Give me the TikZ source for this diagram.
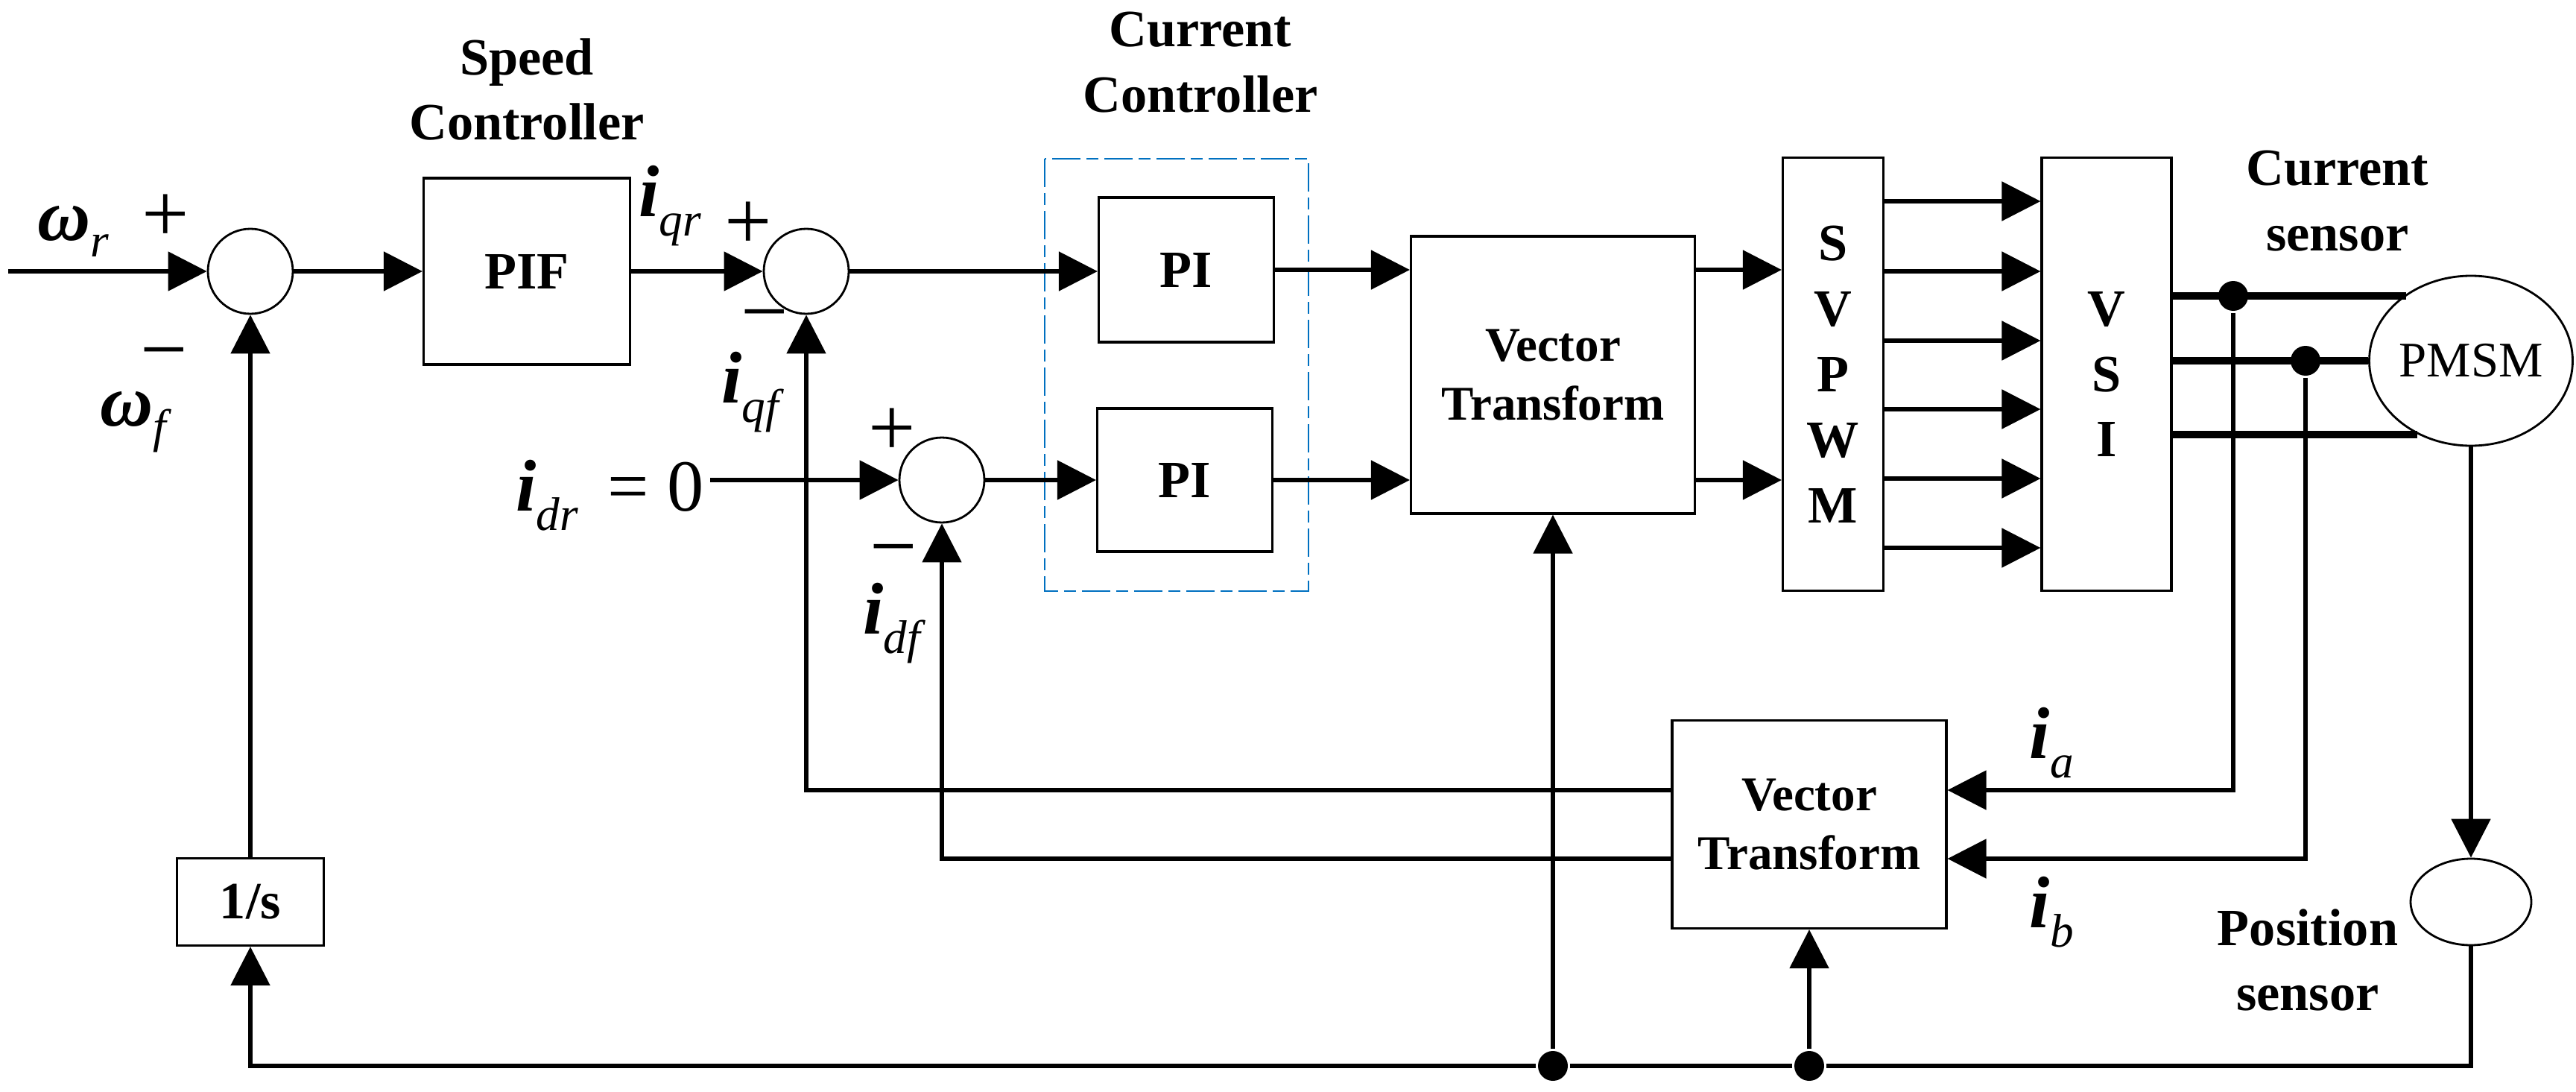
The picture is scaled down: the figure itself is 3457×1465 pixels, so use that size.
\documentclass[tikz,border=0pt]{standalone}
\usepackage{fontspec}
\setmainfont{Liberation Serif}
\usetikzlibrary{arrows.meta, positioning, shapes.geometric, calc}
\definecolor{grpblue}{RGB}{0,112,192}
\newcommand{\sgi}[2]{\textbf{\textit{#1}}\raisebox{-7.5pt}{\fontsize{18}{18}\selectfont\textit{#2}}}
\newcommand{\sgw}[2]{\textbf{\textit{#1}}\raisebox{-6.5pt}{\fontsize{18}{18}\selectfont\textit{#2}}}

\begin{document}
\begin{tikzpicture}[x=0.1mm, y=-0.1mm, >={Triangle[length=5.2mm, width=5.2mm]}, line width=1.5pt,
    blk/.style={draw, rectangle, line width=0.9pt, inner sep=0pt, font=\fontsize{20}{25}\selectfont\bfseries, align=center},
    vtf/.style={font=\fontsize{18.5}{22.5}\selectfont\bfseries},
    sumc/.style={draw, circle, line width=0.8pt, minimum size=11.4mm, inner sep=0pt},
    dot/.style={circle, fill, inner sep=0pt, minimum size=4mm},
    lbl/.style={inner sep=0pt, font=\fontsize{20}{25}\selectfont\bfseries, align=center},
    sgn/.style={inner sep=0pt, font=\fontsize{28}{28}\selectfont},
    pm/.style={inner sep=0pt, font=\fontsize{32}{32}\selectfont},
    phase/.style={line width=2.8pt}]

        \useasboundingbox (0,0) rectangle (3457,1465);

        % blocks
        \node[sumc] (s1) at (336,364) {};
        \node[blk, minimum width=27.7mm, minimum height=25mm] (PIF) at (707,364) {PIF};
        \node[sumc] (s2) at (1082,364) {};
        \node[sumc] (s3) at (1264,644) {};
        \node[blk, minimum width=23.5mm, minimum height=19.4mm] (PIq) at (1592,362) {PI};
        \node[blk, minimum width=23.5mm, minimum height=19.2mm] (PId) at (1590,644) {PI};
        \node[blk, vtf, minimum width=38.1mm, minimum height=37.2mm] (VTa) at (2084,503) {Vector\\Transform};
        \node[blk, minimum width=13.5mm, minimum height=58.1mm] (SV) at (2460,502) {S\\V\\P\\W\\M};
        \node[blk, minimum width=17.4mm, minimum height=58.1mm] (VSI) at (2827,502) {V\\S\\I};
        \node[draw, ellipse, line width=0.8pt, minimum width=26.2mm, minimum height=22.8mm, inner sep=0pt, font=\fontsize{19}{19}\selectfont] (PMSM) at (3316,484) {PMSM};
        \node[blk, vtf, minimum width=36.8mm, minimum height=27.9mm] (VTb) at (2428,1106) {Vector\\Transform};
        \node[draw, ellipse, line width=0.8pt, minimum width=16.2mm, minimum height=11.6mm, inner sep=0pt] (pos) at (3316,1210) {};
        \node[blk, minimum width=19.7mm, minimum height=11.7mm] (inv) at (336,1210) {1/s};
        \draw[grpblue, line width=0.6pt, dash pattern=on 3.8mm off 0.8mm on 1.6mm off 0.8mm] (1402,213) rectangle (1756,793);

        % junctions
        \node[dot] (ja) at (2997,397) {};
        \node[dot] (jd) at (3094,484) {};
        \node[dot] (jb) at (2084,1430) {};
        \node[dot] (jc) at (2428,1430) {};
        \coordinate (wrin) at (11,364);
        \coordinate (idin) at (953,644);

        % titles
        \node[lbl] (spd) at (707,120) {Speed\\Controller};
        \node[lbl] (cur) at (1611,84) {Current\\Controller};
        \node[lbl] (csen) at (3137,270) {Current\\sensor};
        \node[lbl] (psen) at (3097,1288) {Position\\sensor};

        % signals
        \node[sgn, anchor=base west] (wr) at (48,322) {\sgw{ω}{r}};
        \node[sgn, anchor=base west] (wf) at (132,571) {\sgw{ω}{f}};
        \node[sgn, anchor=base west] (iqr) at (855,290) {\sgi{i}{qr}};
        \node[sgn, anchor=base west] (iqf) at (966,540) {\sgi{i}{qf}};
        \node[sgn, anchor=base west] (idr) at (690,685) {\sgi{i}{dr}\hspace{11pt}=\hspace{7pt}0};
        \node[sgn, anchor=base west] (idf) at (1156,850) {\sgi{i}{df}};
        \node[sgn, anchor=base west] (ia) at (2721,1017) {\sgi{i}{a}};
        \node[sgn, anchor=base west] (ib) at (2721,1244) {\sgi{i}{b}};
        \node[pm] (p1) at (222,293) {+};
        \node[pm] (m1) at (220,486) {−};
        \node[pm] (p2) at (1004,303) {+};
        \node[pm] (m2) at (1026,435) {−};
        \node[pm] (p3) at (1197,580) {+};
        \node[pm] (m3) at (1199,750) {−};

        % forward path
        \draw[->] (wrin) -- (s1);
        \draw[->] (s1) -- (PIF);
        \draw[->] (PIF) -- (s2);
        \draw[->] (s2) -- (s2 -| PIq.west);
        \draw[->] (idin) -- (s3);
        \draw[->] (s3) -- (s3 -| PId.west);
        \draw[->] (PIq.east) -- (PIq.east -| VTa.west);
        \draw[->] (PId.east) -- (PId.east -| VTa.west);
        \draw[->] (VTa.east |- PIq.east) -- (SV.west |- PIq.east);
        \draw[->] (VTa.east |- PId.east) -- (SV.west |- PId.east);
        \draw[->] ([yshift=23.2mm]SV.east) -- ([yshift=23.2mm]VSI.west);
        \draw[->] ([yshift=13.8mm]SV.east) -- ([yshift=13.8mm]VSI.west);
        \draw[->] ([yshift=4.5mm]SV.east) -- ([yshift=4.5mm]VSI.west);
        \draw[->] ([yshift=-4.7mm]SV.east) -- ([yshift=-4.7mm]VSI.west);
        \draw[->] ([yshift=-14mm]SV.east) -- ([yshift=-14mm]VSI.west);
        \draw[->] ([yshift=-23.3mm]SV.east) -- ([yshift=-23.3mm]VSI.west);
        \draw[phase] (VSI.east |- ja) -- (ja -| PMSM.134);
        \draw[phase] (VSI.east |- jd) -- (jd -| PMSM.west);
        \draw[phase] (VSI.east |- PMSM.234) -- (PMSM.234);

        % feedback
        \draw[->] (ja) |- ([yshift=4.6mm]VTb.east);
        \draw[->] (jd) |- ([yshift=-4.6mm]VTb.east);
        \draw[->] ([yshift=4.6mm]VTb.west) -| (s2);
        \draw[->] ([yshift=-4.6mm]VTb.west) -| (s3);
        \draw[->] (PMSM) -- (pos);
        \draw[->] (pos) |- (jc) -- (jb) -| (inv);
        \draw[->] (jb) -- (VTa);
        \draw[->] (jc) -- (VTb);
        \draw[->] (inv) -- (s1);
    \end{tikzpicture}
\end{document}
